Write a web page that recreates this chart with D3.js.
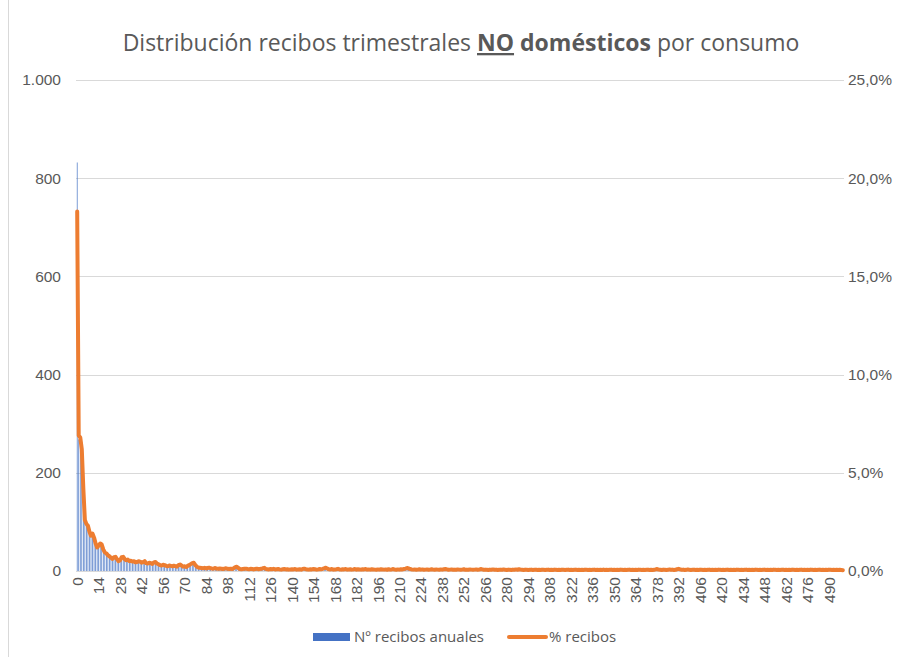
<!DOCTYPE html>
<html lang="es">
<head>
<meta charset="UTF-8">
<title>Distribución recibos trimestrales NO domésticos</title>
<style>
    body { margin: 0; padding: 0; background: #fff; }
    svg { display: block; font-family: "Open Sans", sans-serif; }
    .grid line { stroke: #d9d9d9; stroke-width: 1px; }
    .axis text { fill: #595959; font-size: 15.5px; }
    .legend text { fill: #595959; font-size: 15px; }
</style>
</head>
<body>
<svg id="chart" width="902" height="657"></svg>
<script src="https://d3js.org/d3.v7.min.js"></script>
<script>
// Nº recibos anuales, por tramo de consumo 0..499
const recibos = [
    832, 268, 266, 262, 190, 98, 92, 88, 80, 72,
    74, 62, 52, 45, 48, 52, 50, 40, 36, 34,
    30, 28, 25, 23, 26, 27, 22, 18, 20, 26,
    27, 22, 20, 21, 18, 19, 17, 18, 16, 16,
    18, 17, 15, 16, 18, 14, 13, 15, 14, 12,
    16, 17, 13, 12, 10, 9, 11, 10, 9, 8,
    10, 9, 8, 9, 8, 7, 10, 12, 10, 7,
    8, 7, 9, 10, 12, 14, 15, 10, 7, 6,
    5, 5, 5, 6, 4, 5, 6, 5, 4, 4,
    5, 4, 4, 4, 4, 3, 4, 5, 4, 3,
    4, 3, 5, 7, 8, 5, 3, 3, 3, 4,
    4, 3, 3, 4, 3, 3, 3, 4, 3, 3,
    4, 5, 6, 4, 3, 3, 4, 3, 4, 3, 3, 4, 3, 2, 3, 4, 3, 3, 2, 3,
    3, 3, 4, 2, 3, 3, 2, 4, 4, 3, 3, 2, 3, 3, 4, 3, 2, 3, 4, 3,
    4, 5, 6, 4, 3, 3, 4, 2, 3, 3, 4, 3, 2, 3, 3, 4, 2, 3, 3, 2,
    3, 4, 2, 3, 3, 2, 3, 3, 4, 2, 3, 2, 3, 3, 2, 2, 3, 2, 3, 3,
    2, 3, 2, 3, 2, 3, 4, 2, 2, 3, 2, 3, 3, 4, 4, 5, 5, 4, 3, 2,
    3, 2, 2, 3, 2, 3, 2, 2, 3, 2, 2, 3, 2, 2, 3, 2, 2, 3, 2, 3,
    4, 3, 2, 2, 3, 2, 2, 2, 3, 2, 2, 2, 3, 2, 2, 2, 3, 2, 2, 2,
    3, 2, 2, 4, 3, 2, 2, 2, 1, 2, 2, 3, 2, 2, 1, 2, 2, 2, 3, 2,
    1, 2, 2, 1, 2, 2, 3, 2, 3, 2, 2, 1, 2, 2, 1, 2, 2, 1, 2, 2,
    1, 2, 1, 2, 2, 1, 2, 2, 1, 2, 1, 2, 2, 1, 2, 1, 2, 2, 1, 2,
    2, 1, 2, 1, 2, 2, 1, 2, 1, 2, 1, 2, 2, 1, 2, 1, 2, 2, 1, 2,
    1, 2, 1, 2, 1, 2, 1, 2, 2, 1, 2, 1, 2, 1, 2, 2, 1, 2, 1, 2,
    2, 1, 2, 1, 2, 1, 2, 2, 1, 2, 1, 2, 2, 1, 2, 1, 2, 3, 4, 2,
    2, 1, 2, 2, 1, 2, 3, 2, 2, 1, 2, 3, 4, 3, 2, 2, 1, 2, 3, 2,
    1, 2, 2, 1, 2, 1, 2, 2, 1, 2, 1, 2, 2, 1, 2, 1, 2, 1, 2, 2,
    1, 2, 1, 2, 2, 1, 2, 1, 2, 1, 2, 2, 1, 2, 1, 2, 2, 1, 2, 1,
    2, 1, 2, 2, 1, 2, 1, 2, 2, 1, 2, 1, 2, 1, 2, 2, 1, 2, 1, 2,
    2, 1, 2, 1, 2, 1, 2, 2, 1, 2, 1, 2, 2, 1, 2, 1, 2, 1, 2, 2,
    1, 2, 1, 2, 2, 1, 2, 1, 2, 1, 2, 2, 1, 2, 1, 2, 1, 2, 1, 1
];

// % recibos (en %)
const porcentaje = [
    18.3, 6.9, 6.8, 6.2, 4.2, 2.6, 2.4, 2.3, 2.0, 1.8,
    1.9, 1.7, 1.4, 1.2, 1.3, 1.4, 1.35, 1.1, 0.95, 0.9,
    0.8, 0.75, 0.68, 0.62, 0.7, 0.72, 0.6, 0.5, 0.55, 0.7,
    0.72, 0.6, 0.55, 0.58, 0.5, 0.52, 0.48, 0.5, 0.44, 0.46,
    0.5, 0.48, 0.42, 0.45, 0.5, 0.4, 0.38, 0.42, 0.4, 0.36,
    0.44, 0.46, 0.38, 0.34, 0.3, 0.28, 0.32, 0.3, 0.26, 0.24,
    0.28, 0.26, 0.24, 0.27, 0.25, 0.22, 0.3, 0.33, 0.28, 0.22,
    0.24, 0.2, 0.26, 0.3, 0.35, 0.4, 0.42, 0.3, 0.22, 0.18,
    0.16, 0.15, 0.14, 0.16, 0.13, 0.15, 0.17, 0.14, 0.12, 0.13,
    0.15, 0.12, 0.11, 0.13, 0.12, 0.1, 0.12, 0.14, 0.11, 0.1,
    0.12, 0.1, 0.14, 0.2, 0.22, 0.15, 0.1, 0.09, 0.1, 0.11,
    0.12, 0.1, 0.09, 0.11, 0.1, 0.08, 0.1, 0.12, 0.09, 0.1,
    .11, .14, .16, .1, .09, .08, .1, .09, .11, .08, .09, .1, .08, .07, .09, .1, .08, .09, .07, .08,
    .09, .08, .1, .07, .08, .09, .07, .1, .12, .09, .08, .07, .09, .08, .1, .09, .07, .08, .1, .09,
    .11, .14, .17, .12, .09, .08, .1, .07, .08, .09, .11, .08, .07, .09, .08, .1, .07, .08, .09, .07,
    .08, .1, .07, .09, .08, .07, .09, .08, .1, .07, .08, .07, .09, .08, .07, .06, .08, .07, .09, .08,
    .07, .08, .06, .09, .07, .08, .1, .07, .06, .08, .07, .09, .08, .1, .12, .15, .13, .1, .08, .07,
    .08, .06, .07, .09, .07, .08, .06, .07, .08, .06, .07, .09, .07, .06, .08, .07, .06, .08, .07, .09,
    .1, .08, .06, .07, .08, .06, .07, .06, .08, .07, .06, .07, .09, .06, .07, .06, .08, .07, .06, .07,
    .08, .06, .07, .1, .08, .06, .07, .06, .05, .07, .06, .08, .06, .07, .05, .06, .07, .06, .08, .06,
    .05, .07, .06, .05, .07, .06, .08, .06, .09, .07, .06, .05, .07, .06, .05, .06, .07, .05, .06, .07,
    .05, .06, .05, .07, .06, .05, .06, .07, .05, .06, .05, .07, .06, .05, .06, .05, .07, .06, .05, .06,
    .07, .05, .06, .05, .06, .07, .05, .06, .05, .06, .05, .07, .06, .05, .06, .05, .06, .07, .05, .06,
    .05, .06, .05, .07, .05, .06, .05, .06, .07, .05, .06, .05, .06, .05, .07, .06, .05, .06, .05, .06,
    .07, .05, .06, .05, .06, .05, .07, .06, .05, .06, .05, .06, .07, .05, .06, .05, .06, .08, .1, .07,
    .06, .05, .07, .06, .05, .06, .08, .06, .07, .05, .06, .09, .11, .08, .06, .07, .05, .06, .08, .06,
    .05, .06, .07, .05, .06, .05, .07, .06, .05, .06, .05, .06, .07, .05, .06, .05, .06, .05, .07, .06,
    .05, .06, .05, .06, .07, .05, .06, .05, .06, .05, .07, .06, .05, .06, .05, .06, .07, .05, .06, .05,
    .06, .05, .07, .06, .05, .06, .05, .06, .07, .05, .06, .05, .06, .05, .07, .06, .05, .06, .05, .06,
    .07, .05, .06, .05, .06, .05, .07, .06, .05, .06, .05, .06, .07, .05, .06, .05, .06, .05, .07, .06,
    .05, .06, .05, .06, .07, .05, .06, .05, .06, .05, .07, .06, .05, .06, .05, .06, .05, .06, .05, .04
];

const categorias = d3.range(recibos.length);           // 0..499
const ticksX = categorias.filter(d => d % 14 === 0);  // 0, 14, ... 490
const ticksIzq = [0, 200, 400, 600, 800, 1000];
const ticksDer = [0, 5, 10, 15, 20, 25];

const svg = d3.select("#chart");
const plotLeft = 76, plotRight = 844, plotTop = 80, plotBottom = 571;

// chart frame edge
svg.append("line")
    .attr("x1", 8.5).attr("x2", 8.5).attr("y1", 0).attr("y2", 657)
    .attr("stroke", "#d9d9d9");

const x = d3.scaleBand().domain(categorias).range([plotLeft, plotRight]).padding(0.55);
const y = d3.scaleLinear().domain([0, 1000]).range([plotBottom, plotTop]);
const y2 = d3.scaleLinear().domain([0, 25]).range([plotBottom, plotTop]);
const cx = d => x(d) + x.bandwidth() / 2;

// gridlines
svg.append("g").attr("class", "grid")
    .selectAll("line").data(ticksIzq).enter().append("line")
    .attr("x1", plotLeft).attr("x2", plotRight)
    .attr("y1", d => Math.round(y(d)) + 0.5).attr("y2", d => Math.round(y(d)) + 0.5);

// bars
svg.append("g")
    .selectAll("rect").data(recibos).enter().append("rect")
    .attr("x", (d, i) => x(i))
    .attr("width", x.bandwidth())
    .attr("y", d => y(d))
    .attr("height", d => plotBottom - y(d))
    .attr("fill", "#4472c4");

// line on secondary axis
const line = d3.line()
    .x((d, i) => cx(i))
    .y(d => y2(d));

svg.append("path")
    .datum(porcentaje)
    .attr("fill", "none")
    .attr("stroke", "#ed7d31")
    .attr("stroke-width", 4)
    .attr("stroke-linejoin", "round")
    .attr("stroke-linecap", "round")
    .attr("d", line);

// axes
const fmtIzq = d3.formatLocale({ decimal: ",", thousands: ".", grouping: [3], currency: ["", "€"] }).format(",.0f");
const axisLeft = svg.append("g").attr("class", "axis")
    .attr("transform", "translate(" + (plotLeft - 15) + ",0)")
    .call(d3.axisLeft(y).tickValues(ticksIzq).tickFormat(fmtIzq).tickSize(0).tickPadding(0));

const axisRight = svg.append("g").attr("class", "axis")
    .attr("transform", "translate(" + (plotRight + 4) + ",0)")
    .call(d3.axisRight(y2).tickValues(ticksDer).tickFormat(d => d.toFixed(1).replace(".", ",") + "%").tickSize(0).tickPadding(0));

const axisBottom = svg.append("g").attr("class", "axis")
    .attr("transform", "translate(0," + (plotBottom + 6) + ")")
    .call(d3.axisBottom(x).tickValues(ticksX).tickSize(0).tickPadding(0));

axisBottom.selectAll("text")
    .attr("transform", "rotate(-90)")
    .attr("text-anchor", "end")
    .attr("x", 0).attr("y", 0).attr("dy", "0.35em");

[axisLeft, axisRight, axisBottom].forEach(a => a.select(".domain").remove());

// title
const title = svg.append("text")
    .attr("x", 461).attr("y", 51)
    .attr("text-anchor", "middle")
    .attr("fill", "#595959")
    .style("font-size", "21px");
title.append("tspan").text("Distribución recibos trimestrales ");
title.append("tspan").text("NO").style("font-weight", "bold").style("text-decoration", "underline");
title.append("tspan").text(" ");
title.append("tspan").text("domésticos").style("font-weight", "bold");
title.append("tspan").text(" por consumo");
// fit title to the reference width
const tw = title.node().getComputedTextLength();
title.style("font-size", (21 * 677 / tw).toFixed(2) + "px");

// legend
const legend = svg.append("g").attr("class", "legend");
legend.append("rect")
    .attr("x", 313).attr("y", 633).attr("width", 37).attr("height", 8)
    .attr("fill", "#4472c4");
legend.append("text").attr("x", 354).attr("y", 642).text("Nº recibos anuales");
legend.append("line")
    .attr("x1", 509).attr("x2", 546).attr("y1", 637).attr("y2", 637)
    .attr("stroke", "#ed7d31").attr("stroke-width", 4).attr("stroke-linecap", "round");
legend.append("text").attr("x", 549).attr("y", 642).text("% recibos");
</script>
</body>
</html>
